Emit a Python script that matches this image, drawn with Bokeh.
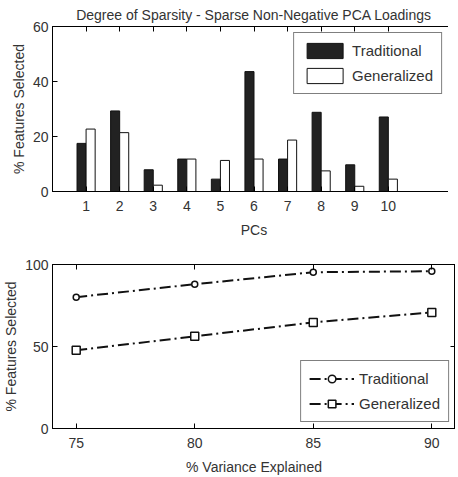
from bokeh.plotting import figure
from bokeh.layouts import column
from bokeh.models import LinearAxis, FixedTicker, ColumnDataSource, Range1d
from bokeh.transform import dodge
from bokeh.embed import file_html
from bokeh.resources import INLINE

# ---- data ----
pcs = [1, 2, 3, 4, 5, 6, 7, 8, 9, 10]
traditional = [17.5, 29.3, 7.9, 11.8, 4.5, 43.6, 11.8, 28.8, 9.7, 27.1]
generalized = [22.7, 21.4, 2.3, 11.8, 11.3, 11.8, 18.7, 7.5, 1.9, 4.5]

variance = [75, 80, 85, 90]
trad_pct = [80.1, 88.0, 95.3, 95.9]
gen_pct = [47.7, 56.2, 64.7, 70.8]

FONT = "Liberation Sans"
TXT = "#333333"
FS = "14px"


def style_axis(ax, ticks, show_labels=True):
    ax.ticker = FixedTicker(ticks=ticks)
    ax.major_tick_in = 5
    ax.major_tick_out = 0
    ax.minor_tick_line_color = None
    ax.axis_line_color = "black"
    ax.major_tick_line_color = "black"
    ax.major_label_text_font = FONT
    ax.major_label_text_color = TXT
    ax.axis_label_text_font = FONT
    ax.axis_label_text_color = TXT
    ax.axis_label_text_font_style = "normal"
    ax.axis_label_text_font_size = FS
    if show_labels:
        ax.major_label_text_font_size = FS
        ax.major_label_standoff = 6
        ax.axis_label_standoff = 7
    else:
        ax.major_label_overrides = {t: "" for t in ticks}
        ax.major_label_text_font_size = "1px"
        ax.major_label_standoff = 0


def base_fig(xr, yr, xt, yt, xlabel, ylabel, **kw):
    p = figure(x_range=Range1d(*xr), y_range=Range1d(*yr),
               frame_width=403, output_backend="svg", toolbar_location=None,
               min_border_left=45, min_border_right=0, **kw)
    p.xgrid.visible = False
    p.ygrid.visible = False
    p.outline_line_color = "black"
    xa = p.xaxis[0]
    ya = p.yaxis[0]
    style_axis(xa, xt)
    style_axis(ya, yt)
    xa.major_label_standoff = 9
    xa.axis_label_standoff = 8
    ya.axis_label_standoff = 3
    ya.major_label_standoff = 4
    xa.axis_label = xlabel
    ya.axis_label = ylabel
    ra = LinearAxis()
    style_axis(ra, yt, False)
    p.add_layout(ra, "right")
    ta = LinearAxis()
    style_axis(ta, xt, False)
    p.add_layout(ta, "above")
    p.background_fill_color = "white"
    p.border_fill_color = "white"
    return p


# ---- top: bar chart ----
src = ColumnDataSource(dict(pc=pcs, trad=traditional, gen=generalized))
p1 = base_fig((0, 12), (0, 60), pcs, [0, 20, 40, 60], "PCs", "% Features Selected",
              frame_height=165, min_border_top=0, min_border_bottom=0)
p1.title.text = "Degree of Sparsity - Sparse Non-Negative PCA Loadings"
p1.title.align = "center"
p1.title.text_font = FONT
p1.title.text_font_size = "14px"
p1.title.text_font_style = "normal"
p1.title.text_color = TXT
p1.title.standoff = 8

p1.vbar(x=dodge("pc", -0.135, range=p1.x_range), top="trad", width=0.27, source=src,
        fill_color="#222222", line_color="#111111", line_width=1,
        legend_label="Traditional")
p1.vbar(x=dodge("pc", 0.135, range=p1.x_range), top="gen", width=0.27, source=src,
        fill_color="white", line_color="#111111", line_width=1,
        legend_label="Generalized")

# ---- bottom: line chart ----
p2 = base_fig((74, 91), (0, 100), variance, [0, 50, 100],
              "% Variance Explained", "% Features Selected",
              frame_height=164, min_border_top=24, min_border_bottom=0)

src2 = ColumnDataSource(dict(v=variance, t=trad_pct, g=gen_pct))
DASH = "11 4 2 4"
p2.line("v", "t", source=src2, line_color="#111111", line_width=2,
        line_dash=DASH, legend_label="Traditional")
p2.scatter("v", "t", source=src2, marker="circle", size=6, fill_color="white",
           line_color="#111111", line_width=1.5, legend_label="Traditional")
p2.line("v", "g", source=src2, line_color="#111111", line_width=2,
        line_dash=DASH, legend_label="Generalized")
p2.scatter("v", "g", source=src2, marker="square", size=8, fill_color="white",
           line_color="#111111", line_width=1.5, legend_label="Generalized")

for p, loc in ((p1, "top_right"), (p2, "bottom_right")):
    lg = p.legend[0]
    lg.location = loc
    lg.margin = 6
    lg.padding = 8
    lg.spacing = 6
    lg.glyph_width = 45
    lg.glyph_height = 19
    lg.label_standoff = 5
    lg.label_text_font = FONT
    lg.label_text_font_size = "15px"
    lg.label_text_color = TXT
    lg.border_line_color = "black"
    lg.border_line_width = 1
    lg.background_fill_alpha = 1

layout = column(p1, p2, spacing=0)
open("out.html", "w").write(file_html(layout, INLINE))
